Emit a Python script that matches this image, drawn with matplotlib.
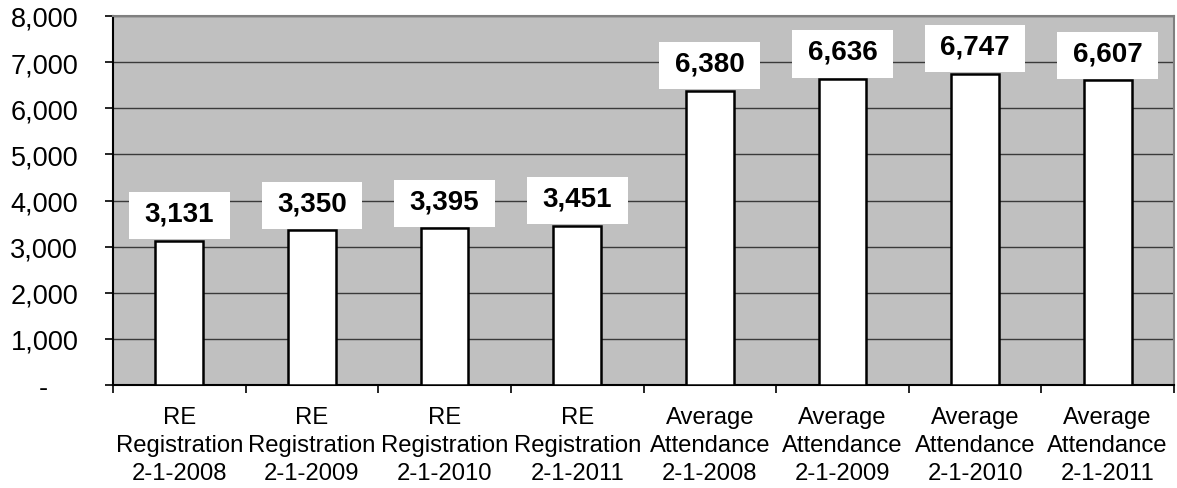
import matplotlib
matplotlib.use("Agg")
import matplotlib.pyplot as plt
import numpy as np

categories = [
    "RE\nRegistration\n2-1-2008",
    "RE\nRegistration\n2-1-2009",
    "RE\nRegistration\n2-1-2010",
    "RE\nRegistration\n2-1-2011",
    "Average\nAttendance\n2-1-2008",
    "Average\nAttendance\n2-1-2009",
    "Average\nAttendance\n2-1-2010",
    "Average\nAttendance\n2-1-2011",
]
values = [3131, 3350, 3395, 3451, 6380, 6636, 6747, 6607]
y_ticks = [0, 1000, 2000, 3000, 4000, 5000, 6000, 7000, 8000]
y_tick_labels = ["-    ", "1,000", "2,000", "3,000", "4,000", "5,000", "6,000", "7,000", "8,000"]

plt.rcParams['font.family'] = ['Liberation Sans', 'DejaVu Sans']

fig = plt.figure(figsize=(11.77, 4.89), dpi=100)
ax = fig.add_axes([113/1177, 1 - 386/489, (1174 - 113)/1177, (386 - 17)/489])
ax.set_facecolor("#C0C0C0")

x = np.arange(len(values))
ax.bar(x, values, width=0.36, color="white", edgecolor="black", linewidth=1.8, zorder=3)

# white label boxes sitting on bar tops
box_h = 1020
gap = 30
ax.bar(x, [box_h] * len(values), bottom=[v + gap for v in values], width=0.76,
       color="white", edgecolor="none", zorder=4)
for xi, v in zip(x, values):
    ax.text(xi, v + gap + box_h / 2 + 50, f"{v:,}", ha="center", va="center",
            fontsize=20, fontweight="bold", zorder=5)

ax.set_xlim(-0.5, len(values) - 0.5)
ax.set_ylim(0, 8000)
ax.set_yticks(y_ticks)
ax.set_yticklabels(y_tick_labels, fontsize=19.5)
ax.yaxis.grid(True, color="#3a3a3a", linewidth=1.0, zorder=1)
ax.set_axisbelow(True)

ax.set_xticks(x)
ax.set_xticklabels(categories, fontsize=17.2, linespacing=1.36)
ax.set_xticks(np.arange(-0.5, len(values)), minor=True)
ax.tick_params(axis="x", which="major", length=0, pad=15)
ax.tick_params(axis="x", which="minor", length=6, width=1.2, direction="out")
ax.tick_params(axis="y", length=6, width=1.2, direction="out", pad=19)

for s in ["left", "bottom"]:
    ax.spines[s].set_color("black")
    ax.spines[s].set_linewidth(1.5)
for s in ["top", "right"]:
    ax.spines[s].set_color("#808080")
    ax.spines[s].set_linewidth(1.5)

fig.savefig("out.png", dpi=100, facecolor="white")
